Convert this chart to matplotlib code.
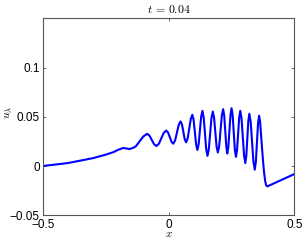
import matplotlib
matplotlib.use('Agg')
import matplotlib.pyplot as plt

plt.rcParams['mathtext.fontset'] = 'cm'
plt.rcParams['font.family'] = ['Liberation Sans', 'DejaVu Sans']

# profile, x position and u_lambda value
x = [-0.5, -0.45, -0.40, -0.35, -0.30, -0.25, -0.22, -0.20, -0.18, -0.167,
     -0.155, -0.14, -0.13, -0.115, -0.10, -0.085,
     -0.0758, -0.0665, -0.0573, -0.048,
     -0.0383, -0.0285, -0.0188, -0.009,
     -0.002, 0.005, 0.012, 0.019,
     0.0263, 0.0335, 0.0408, 0.048,
     0.0535, 0.059, 0.0645, 0.070,
     0.0762, 0.0824, 0.0886, 0.0948,
     0.0998, 0.1048, 0.1098, 0.1148,
     0.1198, 0.1248, 0.1298, 0.1348,
     0.1398, 0.1448, 0.1498, 0.1548,
     0.1601, 0.1654, 0.1707, 0.176,
     0.181, 0.186, 0.191, 0.196,
     0.2013, 0.2066, 0.2119, 0.2172,
     0.2214, 0.2256, 0.2298, 0.2335,
     0.2378, 0.242, 0.2463, 0.2505,
     0.2549, 0.2593, 0.2636, 0.268,
     0.2723, 0.2766, 0.2809, 0.2852,
     0.2902, 0.2952, 0.3002, 0.3052,
     0.3092, 0.3132, 0.3172, 0.3212,
     0.3266, 0.332, 0.3374, 0.3428,
     0.3471, 0.3514, 0.3557, 0.360,
     0.364, 0.368, 0.372, 0.376, 0.380, 0.384, 0.388, 0.393,
     0.40, 0.42, 0.45, 0.48, 0.50]
u = [0.0, 0.0015, 0.003, 0.0055, 0.008, 0.0115, 0.014, 0.0165, 0.0183, 0.0178,
     0.0172, 0.0185, 0.020, 0.025, 0.030, 0.0327,
     0.0309, 0.0265, 0.0221, 0.0203,
     0.0226, 0.0282, 0.0337, 0.036,
     0.0341, 0.0294, 0.0246, 0.0227,
     0.0260, 0.034, 0.0420, 0.0453,
     0.0422, 0.0347, 0.0271, 0.024,
     0.0281, 0.038, 0.0479, 0.052,
     0.0468, 0.0342, 0.0215, 0.0163,
     0.0221, 0.0362, 0.0502, 0.056,
     0.0493, 0.0332, 0.0170, 0.0103,
     0.0169, 0.0328, 0.0487, 0.0553,
     0.0492, 0.0345, 0.0198, 0.0137,
     0.0201, 0.0357, 0.0513, 0.0577,
     0.0511, 0.0352, 0.0193, 0.0127,
     0.0194, 0.0357, 0.0520, 0.0587,
     0.0515, 0.034, 0.0165, 0.0093,
     0.0161, 0.0327, 0.0492, 0.056,
     0.0482, 0.0295, 0.0108, 0.003,
     0.0103, 0.028, 0.0457, 0.053,
     0.0447, 0.0247, 0.0046, -0.0037,
     0.0043, 0.0237, 0.0430, 0.051,
     0.045, 0.031, 0.017, 0.004, -0.007, -0.015, -0.0195, -0.0207,
     -0.0198, -0.0175, -0.014, -0.0105, -0.0082]

x_ticks = [-0.5, 0, 0.5]
x_ticklabels = ['\u22120.5', '0', '0.5']
y_ticks = [-0.05, 0, 0.05, 0.1]
y_ticklabels = ['\u22120.05', '0', '0.05', '0.1']

fig = plt.figure(figsize=(3.05, 2.40), dpi=100)
ax = fig.add_axes([0.14, 0.103, 0.825, 0.821])

ax.plot(x, u, color='#0000ff', linewidth=1.5)

ax.set_xlim(-0.5, 0.5)
ax.set_ylim(-0.05, 0.15)
ax.set_xticks(x_ticks)
ax.set_xticklabels(x_ticklabels)
ax.set_yticks(y_ticks)
ax.set_yticklabels(y_ticklabels)
ax.tick_params(direction='in', length=2.5, width=0.6, labelsize=8.5,
               top=True, right=True, colors='#555555', labelcolor='black')
ax.tick_params(axis='x', pad=2.5)
ax.tick_params(axis='y', pad=2)
for s in ax.spines.values():
    s.set_color('#555555')
    s.set_linewidth(0.8)

ax.set_title(r'$t\,=\,0.04$', fontsize=8.5, pad=4)
ax.set_xlabel(r'$x$', fontsize=8)
ax.xaxis.set_label_coords(0.5, -0.072)
ax.set_ylabel(r'$u_\lambda$', fontsize=8.5)
ax.yaxis.set_label_coords(-0.12, 0.52)

fig.savefig('out.png', dpi=100)
